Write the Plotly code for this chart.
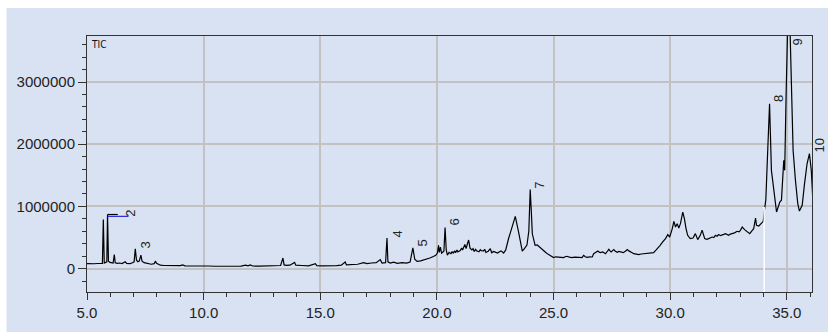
import plotly.graph_objects as go

# Retention time (min) and TIC intensity
time_min = [
    5.00, 5.15, 5.30, 5.45, 5.60, 5.66, 5.70, 5.74, 5.80, 5.85, 5.88, 5.92, 5.98, 6.05, 6.12,
    6.17, 6.21, 6.30, 6.40, 6.50, 6.60, 6.64, 6.70, 6.85, 6.95, 7.02, 7.07, 7.12, 7.18, 7.24,
    7.31, 7.36, 7.45, 7.60, 7.75, 7.88, 7.93, 7.98, 8.05, 8.15, 8.30, 8.50, 8.70, 9.00, 9.10,
    9.20, 9.50, 9.80, 10.00, 10.20, 10.50, 10.80, 11.00, 11.30, 11.60, 11.80, 11.90, 12.00,
    12.10, 12.40, 12.70, 12.90, 13.00, 13.30, 13.40, 13.45, 13.55, 13.70, 13.90, 13.95, 14.20,
    14.50, 14.79, 14.85, 15.10, 15.40, 15.70, 15.90, 16.07, 16.12, 16.40, 16.60, 16.86, 17.00,
    17.20, 17.40, 17.57, 17.65, 17.80, 17.86, 17.90, 18.00, 18.15, 18.30, 18.50, 18.70, 18.85,
    18.97, 19.05, 19.15, 19.30, 19.45, 19.57, 19.70, 19.85, 19.95, 20.02, 20.07, 20.10, 20.15,
    20.20, 20.30, 20.35, 20.40, 20.45, 20.52, 20.60, 20.65, 20.70, 20.76, 20.80, 20.86, 20.90,
    21.00, 21.06, 21.10, 21.20, 21.25, 21.31, 21.36, 21.42, 21.50, 21.55, 21.60, 21.66, 21.70,
    21.80, 21.86, 21.90, 22.00, 22.05, 22.10, 22.20, 22.29, 22.35, 22.43, 22.50, 22.60, 22.68,
    22.75, 22.86, 22.95, 23.07, 23.20, 23.36, 23.50, 23.60, 23.66, 23.75, 23.86, 23.94, 24.00,
    24.05, 24.09, 24.21, 24.30, 24.40, 24.50, 24.57, 24.68, 24.79, 24.90, 25.00, 25.10, 25.21,
    25.32, 25.43, 25.50, 25.57, 25.68, 25.79, 25.90, 26.00, 26.10, 26.22, 26.29, 26.36, 26.44,
    26.55, 26.66, 26.72, 26.80, 26.90, 26.96, 27.01, 27.11, 27.18, 27.23, 27.30, 27.37, 27.42,
    27.47, 27.53, 27.58, 27.65, 27.73, 27.80, 27.87, 27.93, 27.99, 28.08, 28.16, 28.23, 28.30,
    28.37, 28.44, 28.55, 28.65, 28.76, 28.87, 28.97, 29.08, 29.20, 29.29, 29.40, 29.50, 29.57,
    29.68, 29.80, 29.90, 29.98, 30.09, 30.16, 30.23, 30.30, 30.37, 30.44, 30.54, 30.61, 30.68,
    30.75, 30.86, 30.98, 31.08, 31.18, 31.29, 31.37, 31.48, 31.57, 31.65, 31.72, 31.80, 31.87,
    31.94, 32.01, 32.08, 32.15, 32.23, 32.30, 32.37, 32.44, 32.51, 32.58, 32.66, 32.76, 32.87,
    32.95, 33.01, 33.09, 33.19, 33.30, 33.41, 33.52, 33.58, 33.66, 33.70, 33.80, 33.90, 33.99,
    34.04, 34.10, 34.16, 34.23, 34.26, 34.34, 34.44, 34.56, 34.70, 34.77, 34.87, 34.91, 34.97,
    35.05, 35.12, 35.19, 35.27, 35.37, 35.47, 35.54, 35.66, 35.76, 35.87, 35.97, 36.05, 36.12,
]
intensity = [
    80000, 85000, 78000, 82000, 80000, 85000, 790000, 90000, 100000, 110000, 870000, 120000, 100000, 95000, 90000,
    225000, 95000, 85000, 90000, 80000, 95000, 110000, 85000, 80000, 95000, 110000, 320000, 140000, 110000, 120000,
    215000, 120000, 95000, 80000, 70000, 80000, 120000, 85000, 75000, 55000, 50000, 50000, 45000, 48000, 60000,
    45000, 42000, 45000, 40000, 42000, 38000, 40000, 38000, 42000, 40000, 55000, 45000, 60000,
    42000, 40000, 42000, 40000, 45000, 50000, 170000, 60000, 52000, 55000, 100000, 55000, 50000,
    45000, 80000, 48000, 45000, 42000, 48000, 55000, 105000, 60000, 65000, 70000, 95000, 80000,
    90000, 95000, 145000, 90000, 95000, 490000, 110000, 90000, 105000, 85000, 95000, 90000, 105000,
    335000, 150000, 115000, 125000, 140000, 160000, 170000, 195000, 215000, 250000, 375000, 260000, 345000,
    250000, 280000, 660000, 300000, 215000, 260000, 240000, 270000, 250000, 285000, 255000, 300000, 270000,
    290000, 330000, 300000, 390000, 320000, 400000, 460000, 330000, 300000, 320000, 275000, 310000, 285000,
    270000, 305000, 290000, 285000, 310000, 260000, 280000, 320000, 255000, 275000, 265000, 250000, 270000,
    285000, 250000, 300000, 480000, 650000, 840000, 590000, 350000, 280000, 320000, 380000, 600000, 1270000,
    900000, 560000, 375000, 380000, 348000, 310000, 294000, 255000, 225000, 200000, 177000, 190000, 187000,
    180000, 177000, 190000, 198000, 185000, 177000, 185000, 187000, 180000, 177000, 214000, 190000, 182000,
    190000, 187000, 240000, 255000, 283000, 265000, 257000, 267000, 250000, 240000, 275000, 310000, 285000,
    267000, 290000, 305000, 280000, 262000, 275000, 267000, 270000, 257000, 280000, 305000, 285000, 262000,
    255000, 240000, 232000, 225000, 235000, 240000, 245000, 257000, 255000, 257000, 300000, 340000, 375000,
    430000, 482000, 547000, 508000, 643000, 760000, 669000, 723000, 653000, 723000, 910000, 804000, 643000,
    535000, 482000, 492000, 563000, 466000, 535000, 616000, 482000, 470000, 482000, 495000, 508000, 500000,
    535000, 520000, 547000, 530000, 535000, 550000, 563000, 545000, 535000, 555000, 563000, 575000, 600000,
    590000, 616000, 669000, 627000, 589000, 563000, 616000, 643000, 814000, 696000, 685000, 723000, 760000,
    937000, 1100000, 1690000, 2440000, 2650000, 1580000, 1310000, 910000, 1070000, 1100000, 1740000, 1580000, 2800000,
    4100000, 4100000, 3050000, 1900000, 1420000, 1045000, 926000, 1018000, 1367000, 1690000, 1850000, 1580000, 1070000,
]

# Peak labels and their positions
peak_labels = ["2", "3", "4", "5", "6", "7", "8", "9", "10"]
label_time = [6.86, 7.50, 18.30, 19.37, 20.74, 24.39, 34.67, 35.45, 36.00]
label_value = [889000, 375000, 551000, 407000, 744000, 1339000, 2730000, 3640000, 1980000]
label_xshift = [0, 0, 0, 0, 0, 0, 0, 0, 9]

# Integration marker segments near peak 2
marker_black = ([5.88, 6.32], [870000, 870000])
marker_blue = ([5.88, 6.78], [840000, 840000])
white_line_time = 34.03

x_range = [5.0, 36.08]
y_range = [-376000, 3740000]

BG = "#d9e2f3"
FONT = "Arial, 'Liberation Sans', sans-serif"

fig = go.Figure()
fig.add_trace(go.Scatter(x=time_min, y=intensity, mode="lines",
                         line=dict(color="black", width=1.2), showlegend=False))
fig.add_trace(go.Scatter(x=marker_black[0], y=marker_black[1], mode="lines",
                         line=dict(color="black", width=1.2), showlegend=False))
fig.add_trace(go.Scatter(x=marker_blue[0], y=marker_blue[1], mode="lines",
                         line=dict(color="#2a2ae0", width=1.2), showlegend=False))

# blue background panel (white strip on top/left)
fig.add_shape(type="rect", xref="paper", yref="paper", x0=-0.111, x1=1.2, y0=-0.3, y1=1.109,
              fillcolor=BG, line=dict(width=0), layer="below")
fig.add_shape(type="line", xref="x", yref="y", x0=white_line_time, x1=white_line_time,
              y0=y_range[0], y1=990000, line=dict(color="white", width=1.5))

for txt, t, v, xs in zip(peak_labels, label_time, label_value, label_xshift):
    fig.add_annotation(x=t, y=v, text=txt, showarrow=False, textangle=-90, xshift=xs,
                       font=dict(family=FONT, size=13, color="#222222"))

fig.add_annotation(xref="paper", yref="paper", x=0.003, y=0.995, xanchor="left", yanchor="top",
                   text="TIC", showarrow=False,
                   font=dict(family="'Liberation Sans Narrow', 'DejaVu Sans Condensed', Arial", size=10, color="#111111"))

fig.update_layout(
    width=828, height=332,
    margin=dict(l=87, r=16, t=36, b=40),
    paper_bgcolor="white", plot_bgcolor=BG,
    font=dict(family=FONT, size=15, color="#222222"),
    xaxis=dict(range=x_range, tick0=5, dtick=5, tickformat=".1f", ticks="outside", ticklen=7,
               tickcolor="#333", showline=True, linecolor="#333", linewidth=1, mirror=True,
               showgrid=True, gridcolor="#c2c2c2", gridwidth=1.5, zeroline=False,
               minor=dict(dtick=1, ticks="outside", ticklen=4, tickcolor="#333", showgrid=False)),
    yaxis=dict(range=y_range, tick0=0, dtick=1000000, tickformat="d", ticks="outside", ticklen=8,
               tickcolor="#333", showline=True, linecolor="#333", linewidth=1, mirror=True,
               showgrid=True, gridcolor="#c2c2c2", gridwidth=1.5, zeroline=False,
               minor=dict(dtick=200000, ticks="outside", ticklen=4, tickcolor="#333", showgrid=False)),
)

fig.write_html("out.html")
